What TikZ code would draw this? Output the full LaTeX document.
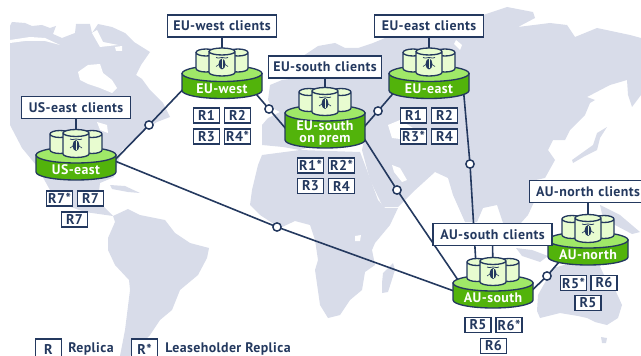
\documentclass[tikz,border=0pt]{standalone}
\usepackage{fontspec}
\setmainfont[LetterSpace=3]{PT Sans}
\definecolor{mapgrey}{HTML}{D8DCE9}
\definecolor{navy}{HTML}{24395F}
\definecolor{discside}{HTML}{52B30B}
\definecolor{disctop}{HTML}{A0E868}
\definecolor{cylfill}{HTML}{E8FCD0}
\tikzset{
  link/.style={draw=navy,line width=1.2pt},
  linkdot/.style={circle,draw=navy,fill=white,line width=1.1pt,minimum size=6.2pt,inner sep=0pt},
  clients/.style={draw=navy,fill=white,line width=1.1pt,font=\fontsize{10.4}{11}\selectfont\bfseries,text=navy,inner sep=0pt,minimum height=16.5pt,text width=#1,align=center},
  clients/.default=82pt,
  replica/.style={draw=navy,fill=white,line width=1.1pt,font=\fontsize{10.6}{11}\selectfont\bfseries,text=navy,inner sep=0pt,minimum width=19.5pt,minimum height=11.5pt},
  legendbox/.style={replica,minimum height=15pt},
  legendtext/.style={anchor=west,font=\fontsize{10.4}{11}\selectfont\bfseries,text=navy,inner sep=0pt},
  sitetext/.style={font=\fontsize{10.4}{8.8}\selectfont\bfseries,text=white,inner sep=0pt,align=center},
  cyl/.style={draw=navy,fill=cylfill,line width=1pt},
  disc/.style={draw=navy,line width=1pt},
}
\newcommand{\dbcyl}[4]{
  \draw[cyl] (#1-#4,#2) -- (#1-#4,#3) arc[start angle=180,end angle=0,x radius=#4,y radius=3.5]
    -- (#1+#4,#2) arc[start angle=0,end angle=-180,x radius=#4,y radius=3.5]
    arc[start angle=180,end angle=0,x radius=#4,y radius=3.5];
}
\newcommand{\dbsite}[4]{
  \begin{scope}[shift={(#1)}]
    \draw[disc,fill=discside] (-40,0) -- (-40,#2) arc[start angle=180,end angle=0,x radius=40,y radius=8] -- (40,0) -- cycle;
    \draw[disc,fill=disctop] (0,0) ellipse[x radius=40,y radius=8];
    \dbcyl{-16}{-21}{-5}{10}
    \dbcyl{16}{-21}{-5}{10}
    \dbcyl{0}{-22}{-1}{13}
    \fill[navy] (0,-9.5) ellipse[x radius=3.4,y radius=5.5];
    \draw[cylfill,line width=.35pt] (0,-14) -- (0,-5);
    \draw[navy,line width=.6pt] (-6,-16) .. controls (-5,-14.5) and (-3,-16) .. (0,-16) .. controls (3,-16) and (5,-14.5) .. (6,-16);
    \draw[navy,line width=.5pt] (-3,-9) -- (-6,-7) (3,-9) -- (6,-7);
    \node[sitetext] (#3) at (0,#2/2+6.5) {#4};
  \end{scope}
}
\begin{document}
\begin{tikzpicture}[x=.75pt,y=-.75pt]
  \useasboundingbox (0,0) rectangle (641,356);
  \fill[mapgrey] (10,26) -- (12,22) -- (25,23) -- (32,26) -- (42,25) -- (50,28) -- (56,26) -- (53,34)
    -- (62,38) -- (75,33) -- (76,24) -- (90,24) -- (92,33) -- (98,24) -- (112,27) -- (125,33) -- (134,42)
    -- (150,52) -- (141,65) -- (136,75) -- (142,79) -- (150,90) -- (163,103) -- (170,117) -- (157,122)
    -- (147,128) -- (135,140) -- (122,150) -- (118,162) -- (114,177) -- (100,183) -- (98,200) -- (104,207)
    -- (113,216) -- (106,215) -- (85,212) -- (65,205) -- (50,190) -- (36,165) -- (22,148) -- (10,125) -- cycle;
  \fill[white] (78,72) -- (88,65) -- (100,64) -- (103,73) -- (112,80) -- (117,88) -- (112,93) -- (100,88) -- (88,84) -- (80,80) -- cycle;
  \fill[white] (10,40) -- (30,37) -- (45,38) -- (60,45) -- (45,41) -- (25,41) -- (10,43) -- cycle;
  \fill[white] (92,33) -- (97,30) -- (103,42) -- (118,45) -- (100,47) -- cycle;
  \fill[white] (115,47) -- (122,46) -- (122,51) -- (116,51) -- cycle;
  \fill[white] (97,122) -- (107,125) -- (108,133) -- (100,130) -- cycle;
  \fill[mapgrey] (110,185) -- (125,186) -- (140,193) -- (128,192) -- (112,189) -- cycle;
  \fill[mapgrey] (113,216) -- (128,209) -- (140,215) -- (165,220) -- (175,233) -- (190,243) -- (209,248) -- (207,258)
    -- (198,275) -- (180,290) -- (172,310) -- (160,320) -- (150,335) -- (140,345) -- (130,356) -- (120,356)
    -- (125,330) -- (130,290) -- (129,280) -- (115,265) -- (108,250) -- (108,238) -- (115,222) -- cycle;
  \fill[mapgrey] (262,125) -- (268,118) -- (280,112) -- (272,108) -- (268,100) -- (270,85) -- (282,80) -- (298,78)
    -- (292,70) -- (300,58) -- (318,46) -- (335,43) -- (345,48) -- (358,48) -- (373,43) -- (385,38) -- (483,36)
    -- (483,15) -- (507,7) -- (533,12) -- (535,18) -- (518,27) -- (550,23) -- (567,25) -- (575,37) -- (597,28)
    -- (630,35) -- (641,38) -- (641,95) -- (632,107) -- (628,95) -- (627,80) -- (610,85) -- (587,97) -- (595,100)
    -- (590,103) -- (585,115) -- (570,130) -- (565,140) -- (553,140) -- (548,150) -- (555,160) -- (545,178)
    -- (531,181) -- (535,200) -- (528,215) -- (520,224) -- (503,223) -- (497,205) -- (483,208) -- (477,222)
    -- (465,222) -- (453,195) -- (448,178) -- (435,172) -- (413,192) -- (398,207) -- (383,207) -- (370,180)
    -- (362,150) -- (366,130) -- (300,150) -- (283,147) -- (262,145) -- cycle;
  \fill[white] (388,125) -- (400,120) -- (413,128) -- (408,140) -- (392,138) -- cycle;
  \fill[white] (392,165) -- (400,168) -- (407,180) -- (402,182) -- (394,172) -- cycle;
  \fill[white] (456,40) -- (462,45) -- (460,50) -- (454,44) -- cycle;
  \fill[mapgrey] (572,160) -- (593,145) -- (597,133) -- (607,127) -- (600,138) -- (597,150) -- (585,156) -- (573,163) -- cycle;
  \fill[mapgrey] (262,155) -- (300,150) -- (360,152) -- (365,165) -- (378,200) -- (385,208) -- (398,208) -- (390,225)
    -- (375,243) -- (372,250) -- (375,265) -- (365,272) -- (362,290) -- (350,300) -- (340,315) -- (328,318)
    -- (320,305) -- (315,270) -- (318,260) -- (315,240) -- (310,225) -- (295,221) -- (280,228) -- (260,215)
    -- (250,205) -- (252,190) -- (258,165) -- cycle;
  \fill[white] (355,236) -- (361,235) -- (360,241) -- (355,241) -- cycle;
  \fill[mapgrey] (383,273) -- (393,263) -- (395,270) -- (388,292) -- (382,293) -- (382,283) -- cycle;
  \fill[mapgrey] (516,248) -- (532,250) -- (548,256) -- (540,262) -- (522,256) -- cycle;
  \fill[mapgrey] (600,205) -- (620,215) -- (640,232) -- (632,234) -- (615,225) -- (602,214) -- cycle;
  \fill[mapgrey] (553,268) -- (575,262) -- (598,262) -- (604,275) -- (613,285) -- (622,305) -- (618,318) -- (607,325)
    -- (595,322) -- (587,318) -- (578,316) -- (560,313) -- (540,318) -- (537,311) -- (538,295) -- cycle;
  \fill[mapgrey] (601,337) -- (607,338) -- (606,343) -- (602,343) -- cycle;

  \coordinate (useast) at (76,155);
  \coordinate (euwest) at (222,73.5);
  \coordinate (eusouth) at (325,113);
  \coordinate (eueast) at (429,73.5);
  \coordinate (ausouth) at (493,283);
  \coordinate (aunorth) at (588,240);

  \coordinate (useast-a) at (110,165);
  \coordinate (useast-b) at (105,157);
  \coordinate (euwest-a) at (190,82);
  \coordinate (euwest-b) at (250,87);
  \coordinate (eusouth-a) at (295,139.5);
  \coordinate (eusouth-b) at (358,134);
  \coordinate (eusouth-c) at (360,132);
  \coordinate (eueast-a) at (400,85.5);
  \coordinate (eueast-b) at (463,85);
  \coordinate (ausouth-a) at (465,295);
  \coordinate (ausouth-b) at (460,283);
  \coordinate (ausouth-c) at (476,265);
  \coordinate (ausouth-d) at (525,297);
  \coordinate (aunorth-a) at (565,255);

  \draw[link] (useast-a) -- (149,125) node[linkdot] (dot1) {} -- (euwest-a);
  \draw[link] (euwest-b) -- (269,109) node[linkdot] (dot2) {} -- (eusouth-a);
  \draw[link] (useast-b) -- (277,227) node[linkdot] (dot3) {} -- (ausouth-a);
  \draw[link] (eusouth-b) -- (378,111) node[linkdot] (dot4) {} -- (eueast-a);
  \draw[link] (eusouth-c) -- (397,190) node[linkdot] (dot5) {} -- (ausouth-b);
  \draw[link] (eueast-b) -- (470,164) node[linkdot] (dot6) {} -- (ausouth-c);
  \draw[link] (ausouth-d) -- (547,276) node[linkdot] (dot7) {} -- (aunorth-a);

  \node[clients] (useast-c) at (76,107.5) {US-east clients};
  \node[clients] (euwest-c) at (222,26) {EU-west clients};
  \node[clients=85pt] (eusouth-c1) at (325,67) {EU-south clients};
  \node[clients] (eueast-c) at (429,26) {EU-east clients};
  \node[clients=88pt] (aunorth-c) at (588,191.5) {AU-north clients};
  \draw[link] (useast-c) -- (useast);
  \draw[link] (euwest-c) -- (euwest);
  \draw[link] (eusouth-c1) -- (eusouth);
  \draw[link] (eueast-c) -- (eueast);
  \draw[link] (aunorth-c) -- (aunorth);

  \dbsite{useast}{17}{useast-n}{US-east}
  \dbsite{euwest}{17}{euwest-n}{EU-west}
  \dbsite{eusouth}{27}{eusouth-n}{EU-south\\on prem}
  \dbsite{eueast}{17}{eueast-n}{EU-east}
  \dbsite{aunorth}{17}{aunorth-n}{AU-north}

  \node[clients=89pt] (ausouth-c1) at (492.5,234.5) {AU-south clients};
  \draw[link] (ausouth-c1) -- (ausouth);
  \dbsite{ausouth}{17}{ausouth-n}{AU-south}

  \node[replica] (useast-r1) at (59.5,198.5) {R7*};
  \node[replica] (useast-r2) at (90.5,198.5) {R7};
  \node[replica] (useast-r3) at (74.5,219.5) {R7};
  \node[replica] (euwest-r1) at (206.5,115.5) {R1};
  \node[replica] (euwest-r2) at (237.5,115.5) {R2};
  \node[replica] (euwest-r3) at (206.5,136.5) {R3};
  \node[replica] (euwest-r4) at (237.5,136.5) {R4*};
  \node[replica] (eusouth-r1) at (310.5,165.5) {R1*};
  \node[replica] (eusouth-r2) at (341.5,165.5) {R2*};
  \node[replica] (eusouth-r3) at (310.5,186) {R3};
  \node[replica] (eusouth-r4) at (341.5,186) {R4};
  \node[replica] (eueast-r1) at (413.5,115.5) {R1};
  \node[replica] (eueast-r2) at (444.5,115.5) {R2};
  \node[replica] (eueast-r3) at (413.5,136.5) {R3*};
  \node[replica] (eueast-r4) at (444.5,136.5) {R4};
  \node[replica] (ausouth-r1) at (478,325) {R5};
  \node[replica] (ausouth-r2) at (509,325) {R6*};
  \node[replica] (ausouth-r3) at (493.5,346) {R6};
  \node[replica] (aunorth-r1) at (573.5,283) {R5*};
  \node[replica] (aunorth-r2) at (604,283) {R6};
  \node[replica] (aunorth-r3) at (588,303) {R5};

  \node[legendbox] (legend-r) at (48.5,349) {R};
  \node[legendtext] (legend-rt) at (68,349) {Replica};
  \node[legendbox] (legend-l) at (144.5,349) {R*};
  \node[legendtext] (legend-lt) at (165,349) {Leaseholder Replica};
\end{tikzpicture}
\end{document}
